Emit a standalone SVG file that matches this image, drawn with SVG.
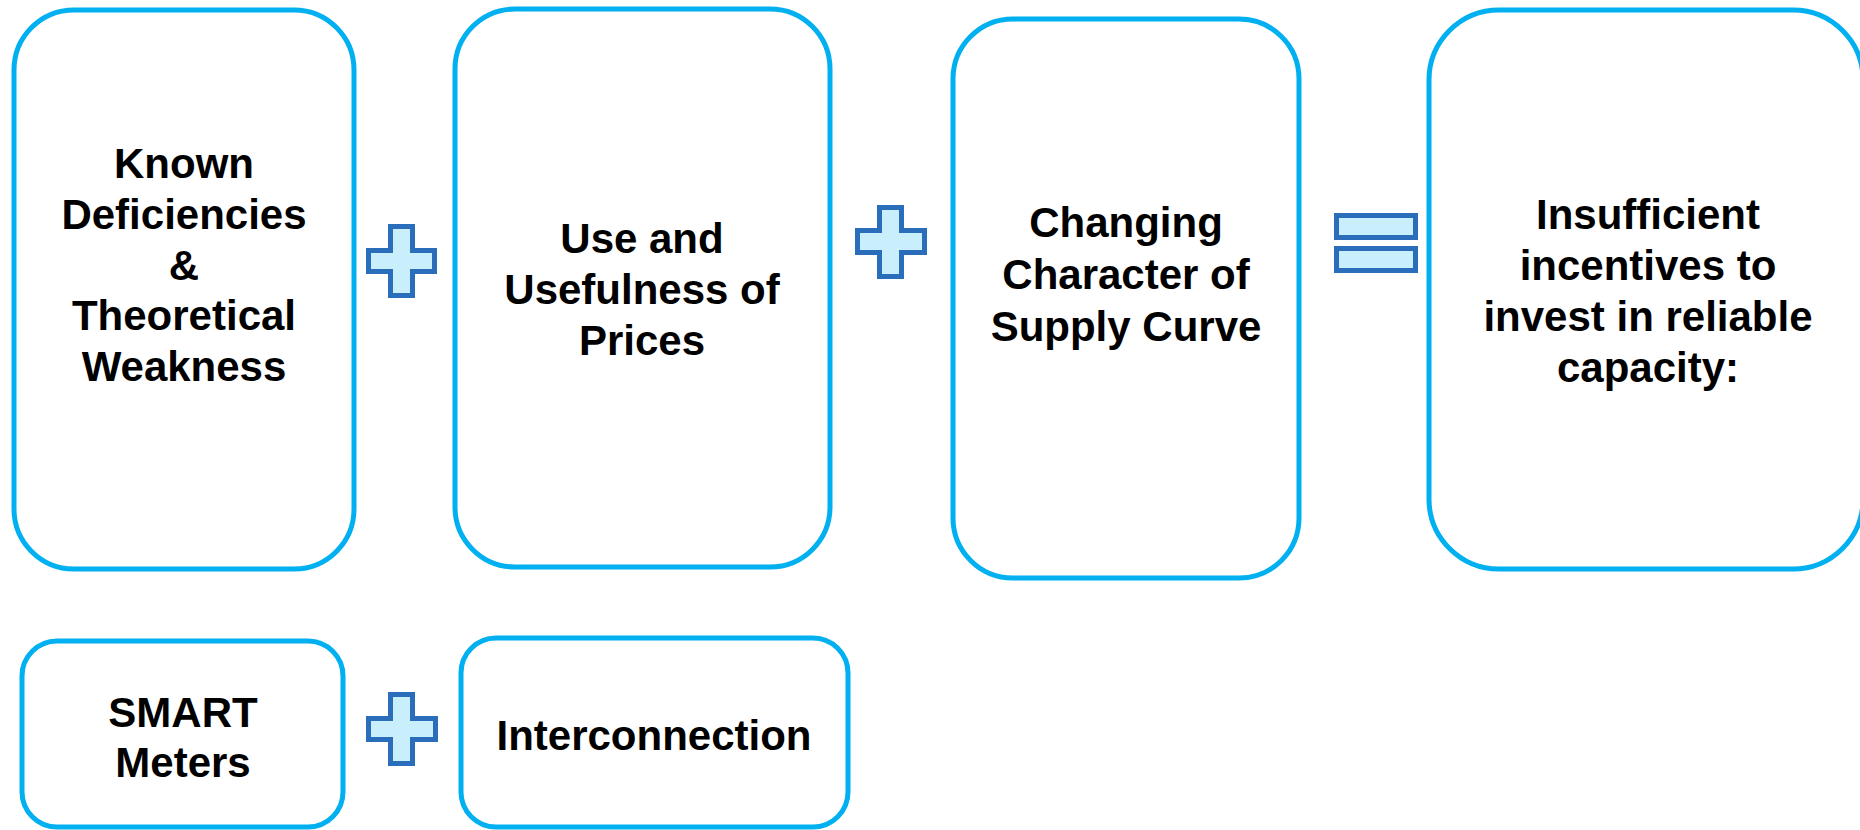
<svg xmlns="http://www.w3.org/2000/svg" width="1860" height="830" viewBox="0 0 1860 830">
<style>
.box{fill:#ffffff;stroke:#00b0f0;stroke-width:5}
.op{fill:#c9eefc;stroke:#2a6ebb;stroke-width:5;stroke-linejoin:miter}
.t{font-family:"Liberation Sans",Arial,sans-serif;font-weight:bold;font-size:42px;fill:#000000;text-anchor:middle}
</style>
<rect width="1860" height="830" fill="#ffffff"/>
<g id="n1">
<rect class="box" x="14" y="10" width="340" height="559" rx="60"/>
<text class="t"><tspan x="184" y="178">Known</tspan><tspan x="184" y="229">Deficiencies</tspan><tspan x="184" y="280">&amp;</tspan><tspan x="184" y="330">Theoretical</tspan><tspan x="184" y="381">Weakness</tspan></text>
</g>
<g id="n2">
<rect class="box" x="455" y="9" width="375" height="558" rx="60"/>
<text class="t"><tspan x="642" y="253">Use and</tspan><tspan x="642" y="304">Usefulness of</tspan><tspan x="642" y="355">Prices</tspan></text>
</g>
<g id="n3">
<rect class="box" x="953" y="19" width="346" height="559" rx="60"/>
<text class="t"><tspan x="1126" y="237">Changing</tspan><tspan x="1126" y="289">Character of</tspan><tspan x="1126" y="341">Supply Curve</tspan></text>
</g>
<g id="n4">
<rect class="box" x="1429" y="10" width="434" height="559" rx="70"/>
<text class="t"><tspan x="1648" y="229">Insufficient</tspan><tspan x="1648" y="280">incentives to</tspan><tspan x="1648" y="331">invest in reliable</tspan><tspan x="1648" y="382">capacity:</tspan></text>
</g>
<g id="n5">
<rect class="box" x="22" y="641" width="321" height="186" rx="35"/>
<text class="t"><tspan x="183" y="727">SMART</tspan><tspan x="183" y="777">Meters</tspan></text>
</g>
<g id="n6">
<rect class="box" x="461" y="638" width="387" height="189" rx="35"/>
<text class="t"><tspan x="654" y="750">Interconnection</tspan></text>
</g>
<g id="connectors">
<path class="op" d="M390.5,226.5 H412.5 V250.5 H434.5 V271.5 H412.5 V295.5 H390.5 V271.5 H368.5 V250.5 H390.5 Z"/>
<path class="op" d="M879.5,207.5 H901.5 V230.5 H924.5 V252.5 H901.5 V276.5 H879.5 V252.5 H857.5 V230.5 H879.5 Z"/>
<path class="op" d="M390.5,694.5 H412.5 V718.5 H435.5 V739.5 H412.5 V763.5 H390.5 V739.5 H368.5 V718.5 H390.5 Z"/>
<rect class="op" x="1336.5" y="215.5" width="79" height="22"/>
<rect class="op" x="1336.5" y="248.5" width="79" height="22"/>
</g>
</svg>
